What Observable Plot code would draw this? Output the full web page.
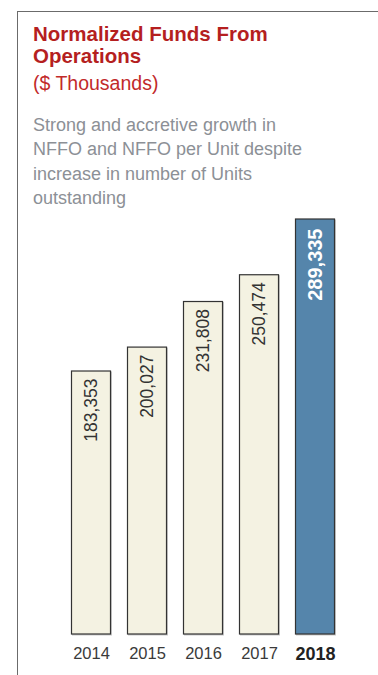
<!DOCTYPE html>
<html>
<head>
<meta charset="utf-8">
<script src="https://cdn.jsdelivr.net/npm/d3@7"></script>
<script src="https://cdn.jsdelivr.net/npm/@observablehq/plot@0.6"></script>
<style>
  html, body { margin: 0; padding: 0; background: #fff; width: 378px; height: 675px; overflow: hidden; }
  body { position: relative; font-family: "Liberation Sans", Arial, sans-serif; }
  #frame { position: absolute; left: 17px; top: 11px; width: 400px; height: 700px;
           border-left: 1.5px solid #6b6b6b; border-top: 1.5px solid #6b6b6b; }
  #title { position: absolute; left: 33px; top: 23px; color: #b51f1f; font-weight: bold;
           font-size: 20.5px; line-height: 22px; }
  #unit { position: absolute; left: 33px; top: 72px; color: #c22a2a; font-size: 19.5px; line-height: 22px; }
  #desc { position: absolute; left: 33px; top: 112.5px; color: #8c9096; font-size: 18px; line-height: 24.5px; width: 340px; }
  #chart { position: absolute; left: 0; top: 210px; }
</style>
</head>
<body>
<div id="frame"></div>
<div id="title">Normalized Funds From<br>Operations</div>
<div id="unit">($ Thousands)</div>
<div id="desc">Strong and accretive growth in<br>NFFO and NFFO per Unit despite<br>increase in number of Units<br>outstanding</div>
<div id="chart"></div>
<script>
const years = ["2014", "2015", "2016", "2017", "2018"];
const values = [183353, 200027, 231808, 250474, 289335];
const highlight = "2018";

const data = years.map((y, i) => ({year: y, value: values[i]}));
const fmt = d3.format(",");

const plot = Plot.plot({
  width: 378,
  height: 465,
  marginLeft: 55,
  marginRight: 27,
  marginTop: 9,
  marginBottom: 41,
  style: {fontFamily: "'Liberation Sans', Arial, sans-serif", background: "transparent"},
  x: {domain: years, paddingInner: 16 / 56, paddingOuter: 16 / 56, label: null},
  y: {domain: [0, d3.max(values)], axis: null},
  marks: [
    Plot.barY(data, {x: "year", y: "value", fill: "#c9c9c9", stroke: "#c9c9c9", dx: 1, dy: 1, insetLeft: 0.5, insetRight: 0.5}),
    Plot.barY(data, {
      x: "year", y: "value",
      fill: d => d.year === highlight ? "#5585ab" : "#f4f2e2",
      stroke: "#333", strokeWidth: 1.2,
      insetLeft: 0.5, insetRight: 0.5
    }),
    Plot.text(data.filter(d => d.year !== highlight), {
      x: "year", y: "value", text: d => fmt(d.value),
      rotate: -90, textAnchor: "end", dy: 7,
      fill: "#333", fontSize: 17.5
    }),
    Plot.text(data.filter(d => d.year === highlight), {
      x: "year", y: "value", text: d => fmt(d.value),
      rotate: -90, textAnchor: "end", dy: 9,
      fill: "#fff", fontSize: 20, fontWeight: "bold"
    }),
    Plot.axisX(years.filter(y => y !== highlight), {tickSize: 0, tickPadding: 13, fontSize: 16.5, fill: "#3a3a3a", label: null}),
    Plot.axisX([highlight], {tickSize: 0, tickPadding: 13, fontSize: 18, fontWeight: "bold", fill: "#222", label: null})
  ]
});
document.getElementById("chart").appendChild(plot);
</script>
</body>
</html>
